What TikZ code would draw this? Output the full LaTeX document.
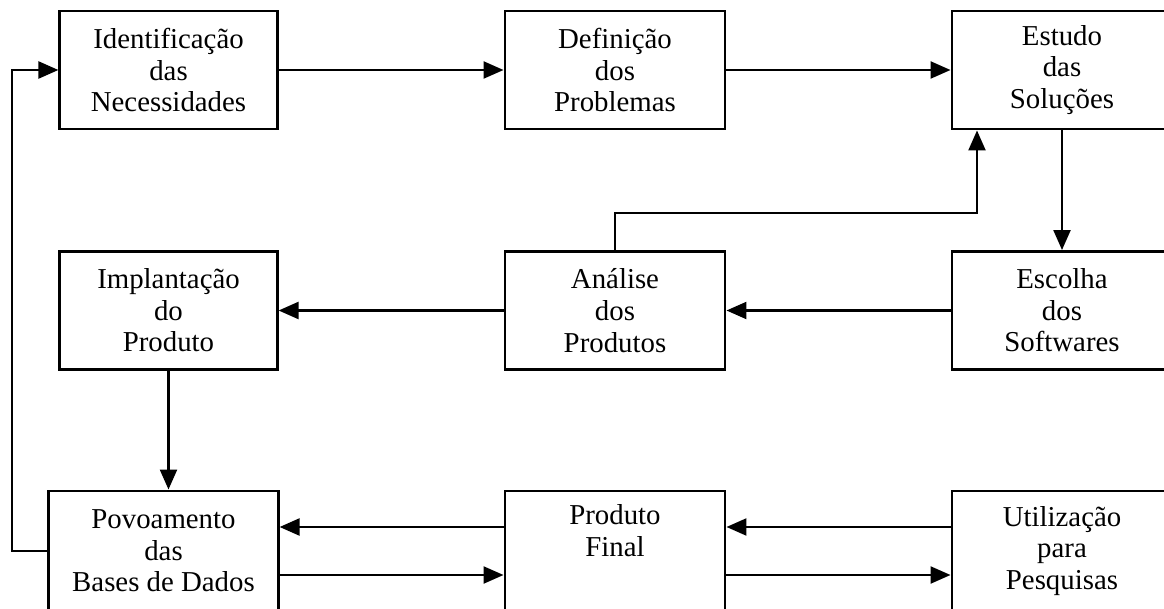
\documentclass[tikz,border=0pt]{standalone}
\usepackage{fontspec}
\setmainfont{Liberation Serif}
\usetikzlibrary{arrows.meta}
\begin{document}
\begin{tikzpicture}[x=0.025cm,y=-0.025cm,line width=2pt,
  every node/.style={font=\fontsize{20.5}{22.5}\selectfont},
  etapa/.style={draw,align=center,minimum width=5.5cm,minimum height=2.95cm,inner sep=0pt},
  seta/.style={-{Triangle[length=0.5cm,width=0.42cm]}}]
  % Set the page's limits
  \useasboundingbox (0,0) rectangle (1164,609);
  % Add steps
  \node[etapa,minimum width=5.43cm] (ident) at (168.5,70) {Identificação\\das\\Necessidades};
  \node[etapa] (defin) at (615,70) {Definição\\dos\\Problemas};
  \node[etapa] (estudo) at (1062,70) {Estudo\\das\\Soluções};
  \node[etapa,minimum width=5.43cm] (implant) at (168.5,310.5) {Implantação\\do\\Produto};
  \node[etapa] (analise) at (615,310.5) {Análise\\dos\\Produtos};
  \node[etapa] (escolha) at (1062,310.5) {Escolha\\dos\\Softwares};
  \node[etapa,minimum width=5.73cm,minimum height=3cm] (povo) at (163.5,551) {Povoamento\\das\\Bases de Dados};
  \node[etapa,minimum height=3cm] (final) at (615,551) {Produto\\Final\\\strut};
  \node[etapa,minimum height=3cm] (util) at (1062,551) {Utilização\\para\\Pesquisas};
  \coordinate (volta) at (977,213);
  \coordinate (retorno) at (12,551);
  % Add flows
  \draw[seta] (ident) -- (defin);
  \draw[seta] (defin) -- (estudo);
  \draw[seta] (estudo) -- (escolha);
  \draw[seta] (escolha) -- (analise);
  \draw[seta] (analise) -- (implant);
  \draw[seta] (analise.north) |- (volta) -- (volta |- estudo.south);
  \draw[seta] (implant.south) -- (implant.south |- povo.north);
  \draw[seta] ([yshift=.6cm]final.west) -- ([yshift=.6cm]povo.east);
  \draw[seta] ([yshift=-.6cm]povo.east) -- ([yshift=-.6cm]final.west);
  \draw[seta] ([yshift=.6cm]util.west) -- ([yshift=.6cm]final.east);
  \draw[seta] ([yshift=-.6cm]final.east) -- ([yshift=-.6cm]util.west);
  \draw[seta] (povo.west) -- (retorno) |- (ident.west);
\end{tikzpicture}
\end{document}
